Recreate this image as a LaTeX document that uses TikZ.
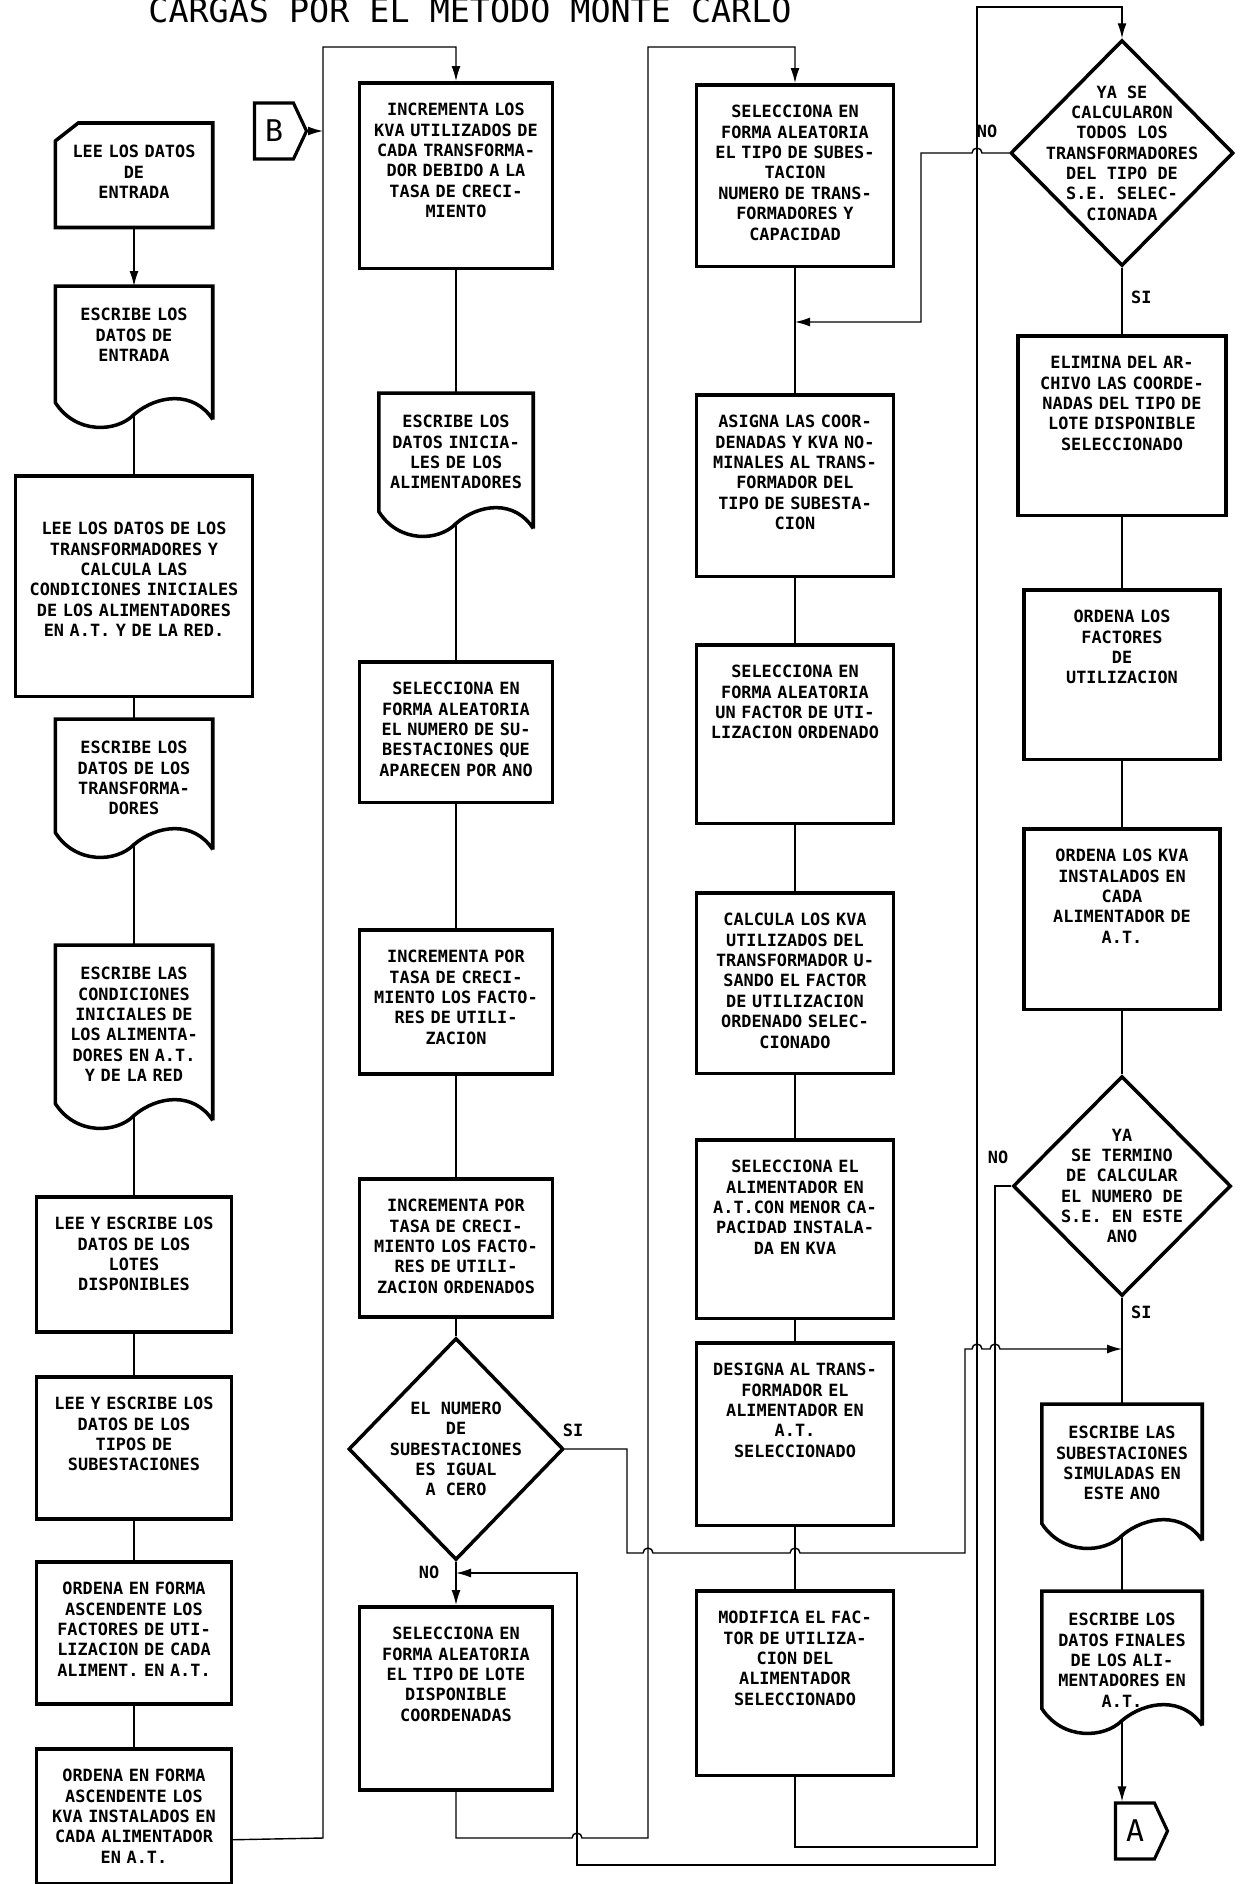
\documentclass[tikz,border=0pt]{standalone}
\usepackage{fontspec}
\setmonofont{DejaVu Sans Mono}
\usepackage{tikz}
\usetikzlibrary{arrows.meta,shapes.geometric,shapes.symbols,calc}

\newcommand{\boxfont}{\ttfamily\bfseries\fontsize{9.6pt}{11.6pt}\selectfont}
% outline of a printed-document node (wavy bottom) + coordinate on the wave
\newcommand{\docwave}[1]{%
  \draw[frame] ($(#1.south east)+(0,-17)$) -- (#1.north east) -- (#1.north west) -- (#1.south west)
    .. controls ($(#1.south west)!0.13!(#1.south east)+(0,-32)$) and ($(#1.south west)!0.39!(#1.south east)+(0,-30)$) .. ($(#1.south)+(0,-12)$)
    .. controls ($(#1.south west)!0.65!(#1.south east)+(0,8)$) and ($(#1.south west)!0.88!(#1.south east)+(0,12)$) .. ($(#1.south east)+(0,-17)$);
  \coordinate (#1w) at ($(#1.south)+(0,-12)$);}
% outline of a punched-card node (cut corner)
\newcommand{\cardcut}[1]{%
  \draw[frame] ($(#1.north west)+(23,0)$) -- (#1.north east) -- (#1.south east) -- (#1.south west) -- ($(#1.north west)+(0,-18)$) -- cycle;}

\begin{document}
\begin{tikzpicture}[
    x=0.02cm, y=0.02cm,
    frame/.style={line width=2pt},
    stepbox/.style={rectangle, draw, frame, anchor=north, inner sep=0pt, align=center, font=\boxfont, text height=0.66cm},
    docbox/.style={stepbox, draw=none},
    decision/.style={diamond, draw, frame, inner sep=0pt},
    dtext/.style={font=\boxfont, align=center},
    connector/.style={signal, signal to=east, signal pointer angle=130, draw, line width=1.8pt, inner sep=0pt, minimum width=1.04cm, minimum height=1.12cm, font=\ttfamily\fontsize{17pt}{17pt}\selectfont},
    link/.style={line width=0.8pt},
    arrow/.style={link, -{Latex[length=3mm, width=1.8mm]}},
    tag/.style={font=\boxfont}
  ]
  \useasboundingbox (0,0) rectangle (1240,-1884);

  % Title
  \node[font=\ttfamily\fontsize{19pt}{19pt}\selectfont, anchor=base] (title) at (470,-22) {CARGAS POR EL METODO MONTE CARLO};

  % Column 1: input data
  \node[docbox, text width=3.08cm, text depth=1.36cm] (entrada) at (134,-123) {LEE LOS DATOS\\DE\\ENTRADA};
  \cardcut{entrada}
  \node[docbox, text width=3.08cm, text depth=1.60cm] (escentrada) at (134,-286) {ESCRIBE LOS\\DATOS DE\\ENTRADA};
  \docwave{escentrada}
  \node[stepbox, text width=4.74cm, text height=1.18cm, text depth=3.24cm] (trafos) at (134,-474) {LEE LOS DATOS DE LOS\\TRANSFORMADORES Y\\CALCULA LAS\\CONDICIONES INICIALES\\DE LOS ALIMENTADORES\\EN A.T. Y DE LA RED.};
  \node[docbox, text width=3.08cm, text depth=1.54cm] (esctrafos) at (134,-719) {ESCRIBE LOS\\DATOS DE LOS\\TRANSFORMA-\\DORES};
  \docwave{esctrafos}
  \node[docbox, text width=3.08cm, text depth=2.44cm] (esccond) at (134,-945) {ESCRIBE LAS\\CONDICIONES\\INICIALES DE\\LOS ALIMENTA-\\DORES EN A.T.\\Y DE LA RED};
  \docwave{esccond}
  \node[stepbox, text width=3.90cm, text depth=2.04cm] (lotes) at (134,-1195) {LEE Y ESCRIBE LOS\\DATOS DE LOS\\LOTES\\DISPONIBLES};
  \node[stepbox, text width=3.90cm, text depth=2.18cm] (tipos) at (134,-1375) {LEE Y ESCRIBE LOS\\DATOS DE LOS\\TIPOS DE\\SUBESTACIONES};
  \node[stepbox, text width=3.90cm, text depth=2.18cm] (ascfu) at (134,-1560) {ORDENA EN FORMA\\ASCENDENTE LOS\\FACTORES DE UTI-\\LIZACION DE CADA\\ALIMENT. EN A.T.};
  \node[stepbox, text width=3.90cm, text depth=2.04cm] (asckva) at (134,-1747) {ORDENA EN FORMA\\ASCENDENTE LOS\\KVA INSTALADOS EN\\CADA ALIMENTADOR\\EN A.T.};

  % Column 2: yearly growth
  \node[connector] (conB) at (274,-131) {B};
  \node[stepbox, text width=3.86cm, text depth=3.06cm] (inckva) at (456,-81) {INCREMENTA LOS\\KVA UTILIZADOS DE\\CADA TRANSFORMA-\\DOR DEBIDO A LA\\TASA DE CRECI-\\MIENTO};
  \node[docbox, text width=3.02cm, text depth=1.64cm] (escini) at (456,-393) {ESCRIBE LOS\\DATOS INICIA-\\LES DE LOS\\ALIMENTADORES};
  \docwave{escini}
  \node[stepbox, text width=3.86cm, text depth=2.16cm] (selnum) at (456,-660) {SELECCIONA EN\\FORMA ALEATORIA\\EL NUMERO DE SU-\\BESTACIONES QUE\\APARECEN POR ANO};
  \node[stepbox, text width=3.86cm, text depth=2.22cm] (incfu) at (456,-928) {INCREMENTA POR\\TASA DE CRECI-\\MIENTO LOS FACTO-\\RES DE UTILI-\\ZACION};
  \node[stepbox, text width=3.86cm, text depth=2.10cm] (incord) at (456,-1177) {INCREMENTA POR\\TASA DE CRECI-\\MIENTO LOS FACTO-\\RES DE UTILI-\\ZACION ORDENADOS};
  \node[decision, minimum width=4.30cm, minimum height=4.44cm, label={[dtext]center:{EL NUMERO\\DE\\SUBESTACIONES\\ES IGUAL\\A CERO}}] (cero) at (456,-1449) {};
  \node[stepbox, text width=3.86cm, text depth=3.00cm] (sellote) at (456,-1605) {SELECCIONA EN\\FORMA ALEATORIA\\EL TIPO DE LOTE\\DISPONIBLE\\COORDENADAS};
  \node[tag] (si1) at (573,-1430) {SI};
  \node[tag] (no1) at (429,-1572) {NO};

  % Column 3: transformers of the substation
  \node[stepbox, text width=3.94cm, text depth=2.98cm] (seltipo) at (795,-83) {SELECCIONA EN\\FORMA ALEATORIA\\EL TIPO DE SUBES-\\TACION\\NUMERO DE TRANS-\\FORMADORES Y\\CAPACIDAD};
  \node[stepbox, text width=3.94cm, text depth=2.98cm] (asigna) at (795,-393) {ASIGNA LAS COOR-\\DENADAS Y KVA NO-\\MINALES AL TRANS-\\FORMADOR DEL\\TIPO DE SUBESTA-\\CION};
  \node[stepbox, text width=3.94cm, text depth=2.92cm] (selfu) at (795,-643) {SELECCIONA EN\\FORMA ALEATORIA\\UN FACTOR DE UTI-\\LIZACION ORDENADO};
  \node[stepbox, text width=3.94cm, text depth=2.96cm] (calcula) at (795,-891) {CALCULA LOS KVA\\UTILIZADOS DEL\\TRANSFORMADOR U-\\SANDO EL FACTOR\\DE UTILIZACION\\ORDENADO SELEC-\\CIONADO};
  \node[stepbox, text width=3.94cm, text depth=2.92cm] (selalim) at (795,-1138) {SELECCIONA EL\\ALIMENTADOR EN\\A.T.CON MENOR CA-\\PACIDAD INSTALA-\\DA EN KVA};
  \node[stepbox, text width=3.94cm, text depth=3.00cm] (designa) at (795,-1341) {DESIGNA AL TRANS-\\FORMADOR EL\\ALIMENTADOR EN\\A.T.\\SELECCIONADO};
  \node[stepbox, text width=3.94cm, text depth=3.04cm] (modifica) at (795,-1589) {MODIFICA EL FAC-\\TOR DE UTILIZA-\\CION DEL\\ALIMENTADOR\\SELECCIONADO};

  % Column 4: end of substation / year
  \node[decision, minimum width=4.46cm, minimum height=4.52cm, label={[dtext]center:{YA SE\\CALCULARON\\TODOS LOS\\TRANSFORMADORES\\DEL TIPO DE\\S.E. SELEC-\\CIONADA}}] (ultimo) at (1122,-153) {};
  \node[stepbox, text width=4.16cm, text depth=2.94cm] (elimina) at (1122,-334) {ELIMINA DEL AR-\\CHIVO LAS COORDE-\\NADAS DEL TIPO DE\\LOTE DISPONIBLE\\SELECCIONADO};
  \node[stepbox, text width=3.92cm, text depth=2.74cm] (ordfact) at (1122,-588) {ORDENA LOS\\FACTORES\\DE\\UTILIZACION};
  \node[stepbox, text width=3.92cm, text depth=2.96cm] (ordinst) at (1122,-827) {ORDENA LOS KVA\\INSTALADOS EN\\CADA\\ALIMENTADOR DE\\A.T.};
  \node[decision, minimum width=4.36cm, minimum height=4.40cm, label={[dtext]center:{YA\\SE TERMINO\\DE CALCULAR\\EL NUMERO DE\\S.E. EN ESTE\\ANO}}] (fin) at (1122,-1186) {};
  \node[docbox, text width=3.14cm, text depth=1.66cm] (escsub) at (1122,-1404) {ESCRIBE LAS\\SUBESTACIONES\\SIMULADAS EN\\ESTE ANO};
  \docwave{escsub}
  \node[docbox, text width=3.14cm, text depth=1.62cm] (escfin) at (1122,-1591) {ESCRIBE LOS\\DATOS FINALES\\DE LOS ALI-\\MENTADORES EN\\A.T.};
  \docwave{escfin}
  \node[connector] (conA) at (1135,-1831) {A};
  \node[tag] (no2) at (987,-131) {NO};
  \node[tag, anchor=west] (si2) at (1125,-297) {SI};
  \node[tag] (no3) at (998,-1157) {NO};
  \node[tag, anchor=west] (si3) at (1125,-1312) {SI};

  % Junctions on other lines
  \coordinate (jb) at (323,-131);
  \coordinate (jtipo) at (795,-322);
  \coordinate (jlote) at (456,-1573);
  \coordinate (jsub) at (1122,-1349);

  % Arrows, column 1
  \draw[arrow] (entrada) -- (escentrada);
  \draw[link] (escentradaw) -- (trafos);
  \draw[link] (trafos) -- (esctrafos);
  \draw[link] (esctrafosw) -- (esccond);
  \draw[link] (esccondw) -- (lotes);
  \draw[link] (lotes) -- (tipos);
  \draw[link] (tipos) -- (ascfu);
  \draw[link] (ascfu) -- (asckva);
  \draw[arrow] ([yshift=-0.47cm]asckva.east) -- (323,-1838) -- (323,-47) -- (456,-47) -- (inckva);
  \draw[arrow] (conB) -- (jb);

  % Arrows, column 2
  \draw[link] (inckva) -- (escini);
  \draw[link] (esciniw) -- (selnum);
  \draw[link] (selnum) -- (incfu);
  \draw[link] (incfu) -- (incord);
  \draw[link] (incord) -- (cero);
  \draw[arrow] (cero) -- (sellote);
  \draw[arrow] (cero.east) -| (627,-1553) -- (643,-1553) arc[start angle=180, end angle=0, radius=5]
    -- (790,-1553) arc[start angle=180, end angle=0, radius=5] -- (965,-1553) -- (965,-1349)
    -- (972,-1349) arc[start angle=180, end angle=0, radius=5] -- (990,-1349) arc[start angle=180, end angle=0, radius=5] -- (jsub);
  \draw[arrow] (sellote) -- (456,-1838) -- (572,-1838) arc[start angle=180, end angle=0, radius=5]
    -- (648,-1838) -- (648,-47) -- (795,-47) -- (seltipo);
  \draw[arrow] (fin.west) -- (995,-1186) -- (995,-1865) -- (577,-1865) -- (577,-1573) -- (jlote);

  % Arrows, column 3
  \draw[link] (seltipo) -- (asigna);
  \draw[arrow] (ultimo.west) -- (982,-153) arc[start angle=0, end angle=180, radius=5] -- (921,-153) -- (921,-322) -- (jtipo);
  \draw[link] (asigna) -- (selfu);
  \draw[link] (selfu) -- (calcula);
  \draw[link] (calcula) -- (selalim);
  \draw[link] (selalim) -- (designa);
  \draw[link] (designa) -- (modifica);
  \draw[arrow] (modifica) -- (795,-1847) -- (977,-1847) -- (977,-7) -- (1122,-7) -- (ultimo);

  % Arrows, column 4
  \draw[link] (ultimo) -- (elimina);
  \draw[link] (elimina) -- (ordfact);
  \draw[link] (ordfact) -- (ordinst);
  \draw[link] (ordinst) -- (fin);
  \draw[link] (fin) -- (escsub);
  \draw[link] (escsubw) -- (escfin);
  \draw[arrow] (escfinw) -- (escfinw |- conA.north);
\end{tikzpicture}
\end{document}
